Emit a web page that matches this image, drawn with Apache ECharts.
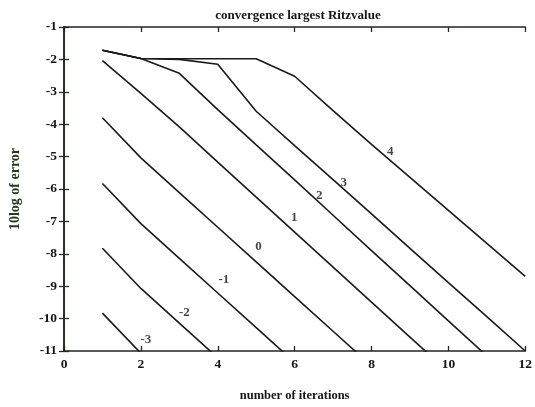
<!DOCTYPE html>
<html>
<head>
<meta charset="utf-8">
<script src="https://cdn.jsdelivr.net/npm/echarts@6/dist/echarts.min.js"></script>
<style>
  html, body { margin: 0; padding: 0; background: #fff; }
  #chart { width: 535px; height: 407px; }
</style>
</head>
<body>
<div id="chart"></div>
<script>
// Iteration numbers (x) and 10log error estimates per curve
const iterations = [1, 2, 3, 4, 5, 6, 7, 8, 9, 10, 11, 12];

const curveNames = ['-3', '-2', '-1', '0', '1', '2', '3', '4'];
const curveM3 = [-9.83, -11.07];
const curveM2 = [-7.83, -9.07, -10.14, -11.21];
const curveM1 = [-5.83, -7.07, -8.14, -9.21, -10.28, -11.35];
const curve0  = [-3.80, -5.04, -6.11, -7.18, -8.25, -9.32, -10.39, -11.46];
const curve1  = [-2.04, -3.05, -4.08, -5.17, -6.25, -7.33, -8.41, -9.49, -10.57, -11.65];
const curve2  = [-1.72, -1.97, -2.43, -3.55, -4.64, -5.72, -6.81, -7.90, -8.98, -10.07, -11.15];
const curve3  = [-1.72, -1.97, -2.00, -2.15, -3.60, -4.66, -5.71, -6.77, -7.83, -8.89, -9.94, -11.00];
const curve4  = [-1.72, -1.97, -1.98, -1.98, -1.98, -2.52, -3.58, -4.62, -5.64, -6.66, -7.68, -8.70];

// Curve label anchors (x, y) in data units
const labelX = [2.13, 3.13, 4.16, 5.06, 5.99, 6.64, 7.28, 8.49];
const labelY = [-10.64, -9.83, -8.81, -7.79, -6.89, -6.20, -5.80, -4.84];

const xTicks = { min: 0, max: 12, interval: 2 };
const yTicks = { min: -11, max: -1, interval: 1 };

const ink = '#151515';
const serif = '"Liberation Serif", "DejaVu Serif", serif';

const curves = [curveM3, curveM2, curveM1, curve0, curve1, curve2, curve3, curve4];

const lineSeries = curves.map((vals, i) => ({
  name: curveNames[i],
  type: 'line',
  data: vals.map((v, k) => [iterations[k], v]),
  showSymbol: false,
  symbol: 'none',
  clip: true,
  lineStyle: { color: '#1a1a1a', width: 1.6 },
  silent: true,
  z: 2
}));

const labelSeries = {
  type: 'scatter',
  symbolSize: 0,
  data: labelX.map((x, i) => ({ value: [x, labelY[i]], name: curveNames[i] })),
  label: {
    show: true,
    position: 'inside',
    formatter: p => p.name,
    color: ink,
    fontFamily: serif,
    fontWeight: 'bold',
    fontSize: 13
  },
  silent: true,
  z: 3
};

const axisLineStyle = { color: '#1e2a1a', width: 1.6 };
const tickStyle = { show: true, inside: true, length: 5, lineStyle: { color: '#1e2a1a', width: 1.3 } };
const tickLabel = { color: ink, fontFamily: serif, fontWeight: 'bold', fontSize: 13.5 };

const chart = echarts.init(document.getElementById('chart'), null, { renderer: 'canvas' });
chart.setOption({
  animation: false,
  backgroundColor: '#ffffff',
  title: {
    text: 'convergence largest Ritzvalue',
    left: 293,
    textAlign: 'center',
    top: 4,
    textStyle: { color: ink, fontFamily: serif, fontWeight: 'bold', fontSize: 13 }
  },
  grid: { left: 60.5, right: 8.5, top: 27, bottom: 47 },
  xAxis: [
    {
      type: 'value',
      min: xTicks.min, max: xTicks.max, interval: xTicks.interval,
      position: 'bottom',
      name: 'number of iterations',
      nameLocation: 'middle',
      nameGap: 38,
      nameTextStyle: { color: ink, fontFamily: serif, fontWeight: 'bold', fontSize: 12.5 },
      axisLine: { show: true, lineStyle: axisLineStyle },
      axisTick: tickStyle,
      axisLabel: Object.assign({ margin: 7 }, tickLabel),
      splitLine: { show: false }
    },
    {
      type: 'value',
      min: xTicks.min, max: xTicks.max, interval: xTicks.interval,
      position: 'top',
      axisLine: { show: true, lineStyle: axisLineStyle },
      axisTick: tickStyle,
      axisLabel: { show: false },
      splitLine: { show: false }
    }
  ],
  yAxis: [
    {
      type: 'value',
      min: yTicks.min, max: yTicks.max, interval: yTicks.interval,
      position: 'left',
      name: '10log of error',
      nameLocation: 'middle',
      nameRotate: 90,
      nameGap: 42,
      nameTextStyle: { color: '#26391c', fontFamily: serif, fontWeight: 'bold', fontSize: 14 },
      axisLine: { show: true, lineStyle: axisLineStyle },
      axisTick: tickStyle,
      axisLabel: Object.assign({ margin: 7 }, tickLabel),
      splitLine: { show: false }
    },
    {
      type: 'value',
      min: yTicks.min, max: yTicks.max, interval: yTicks.interval,
      position: 'right',
      axisLine: { show: true, lineStyle: axisLineStyle },
      axisTick: tickStyle,
      axisLabel: { show: false },
      splitLine: { show: false }
    }
  ],
  series: lineSeries.concat([labelSeries])
});
</script>
</body>
</html>
